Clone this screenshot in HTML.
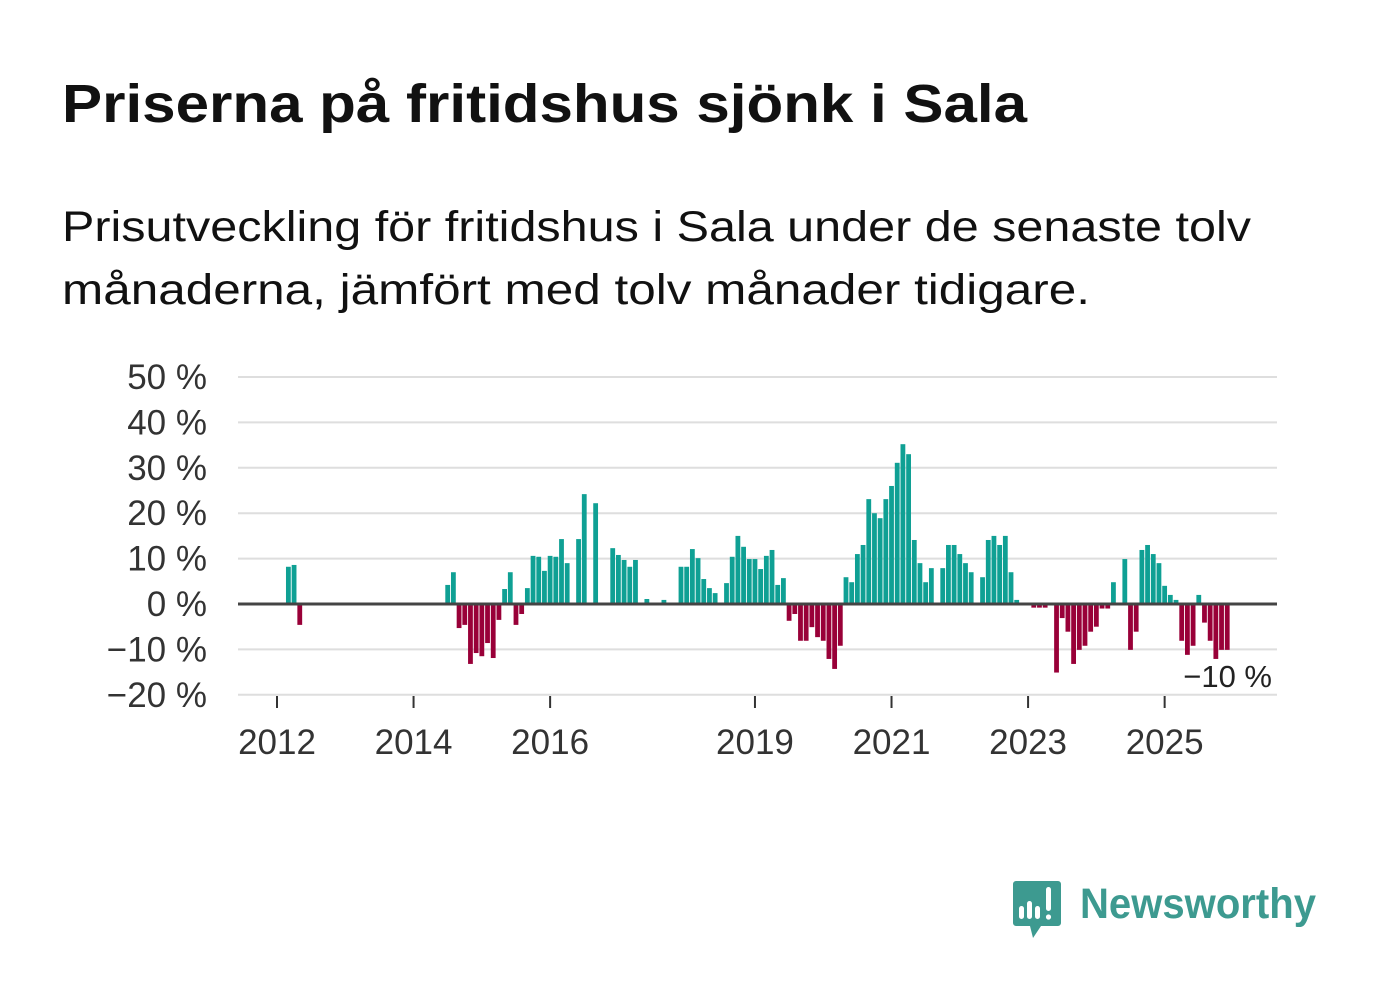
<!DOCTYPE html>
<html><head><meta charset="utf-8"><style>
body{margin:0;background:#fff;width:1382px;height:999px;overflow:hidden;font-family:"Liberation Sans",sans-serif;}
</style></head><body>
<svg width="1382" height="999" viewBox="0 0 1382 999">
<text x="62" y="122" font-size="54" font-weight="bold" fill="#111" textLength="965" lengthAdjust="spacingAndGlyphs">Priserna på fritidshus sjönk i Sala</text>
<text x="62" y="241" font-size="43" fill="#111" textLength="1189" lengthAdjust="spacingAndGlyphs">Prisutveckling för fritidshus i Sala under de senaste tolv</text>
<text x="62" y="304" font-size="43" fill="#111" textLength="1028" lengthAdjust="spacingAndGlyphs">månaderna, jämfört med tolv månader tidigare.</text>
<g id="grid"></g><g id="bars"></g><g id="axes"></g>
<text x="1272" y="687" font-size="31" fill="#222" text-anchor="end">−10 %</text>
<g>
<path d="M1016 881h42a3 3 0 0 1 3 3v39a3 3 0 0 1-3 3h-17l-8 12l-3-12h-14a3 3 0 0 1-3-3v-39a3 3 0 0 1 3-3z" fill="#3d9a90"/>
<rect x="1019" y="906" width="5" height="13" rx="2.5" fill="#fff"/><rect x="1027" y="901" width="5" height="18" rx="2.5" fill="#fff"/><rect x="1035" y="906" width="5" height="13" rx="2.5" fill="#fff"/><rect x="1046" y="887" width="5" height="24" rx="2.5" fill="#fff"/><circle cx="1048.5" cy="917" r="2.6" fill="#fff"/>
<text x="1080" y="918" font-size="43" font-weight="bold" fill="#3d9a90" textLength="236" lengthAdjust="spacingAndGlyphs">Newsworthy</text>
</g>
</svg>
<script>
const months=[2,3,4,30,31,32,33,34,35,36,37,38,39,40,41,42,43,44,45,46,47,48,49,50,51,53,54,56,59,60,61,62,63,65,68,71,72,73,74,75,76,77,79,80,81,82,83,84,85,86,87,88,89,90,91,92,93,94,95,96,97,98,99,100,101,102,103,104,105,106,107,108,109,110,111,112,113,114,115,117,118,119,120,121,122,124,125,126,127,128,129,130,133,134,135,137,138,139,140,141,142,143,144,145,146,147,149,150,151,152,153,154,155,156,157,158,159,160,161,162,163,164,165,166,167];
const values=[8.2,8.6,-4.6,4.2,7.0,-5.3,-4.6,-13.2,-10.8,-11.5,-8.6,-11.9,-3.5,3.3,7.0,-4.6,-2.2,3.5,10.6,10.4,7.3,10.6,10.4,14.3,9.0,14.3,24.2,22.2,12.3,10.8,9.7,8.2,9.7,1.1,0.9,8.2,8.2,12.1,10.1,5.5,3.5,2.4,4.6,10.4,15.0,12.6,9.9,9.9,7.7,10.6,11.9,4.2,5.7,-3.7,-2.2,-8.1,-8.1,-5.1,-7.3,-8.1,-12.1,-14.3,-9.2,5.9,4.8,11.0,13.0,23.1,20.0,18.9,23.1,26.0,31.1,35.2,33.0,14.1,9.0,4.8,7.9,7.9,13.0,13.0,11.0,9.0,7.0,5.9,14.1,15.0,13.0,15.0,7.0,0.9,-0.8,-0.8,-0.8,-15.1,-3.1,-6.1,-13.2,-10.1,-9.2,-6.1,-5.0,-1.0,-1.0,4.8,9.9,-10.1,-6.1,11.9,13.0,11.0,9.0,4.0,2.0,0.9,-8.1,-11.2,-9.2,2.0,-4.1,-8.1,-12.1,-10.1,-10.1];
const yTicks=[50,40,30,20,10,0,-10,-20];
const yTickLabels=["50 %","40 %","30 %","20 %","10 %","0 %","−10 %","−20 %"];
const xYears=[2012,2014,2016,2019,2021,2023,2025];
const NS="http://www.w3.org/2000/svg";
const y=v=>604-v*4.54;
const x=m=>277+m*5.69;
const xy=yr=>x((yr-2012)*12);
function mk(t,a,p){const e=document.createElementNS(NS,t);for(const k in a)e.setAttribute(k,a[k]);p.appendChild(e);return e;}
const grid=document.getElementById('grid'),bars=document.getElementById('bars'),axes=document.getElementById('axes');
yTicks.forEach((v,i)=>{
 if(v!==0){const l=mk('line',{x1:238,x2:1277,y1:y(v),y2:y(v),stroke:'#dedede','stroke-width':2},grid);
 
 }
 const t=mk('text',{x:207,y:y(v)+12,'font-size':35,fill:'#333','text-anchor':'end'},axes);
 t.textContent=yTickLabels[i];
 
 
});
months.forEach((m,i)=>{
 const v=values[i];
 const r=mk('rect',{x:x(m)-2.4,width:4.8,y:v>=0?y(v):y(0),height:Math.abs(y(v)-y(0)),fill:v>=0?'#0fa094':'#990038'},bars);
 
 
});
const z=mk('line',{x1:238,x2:1277,y1:y(0),y2:y(0),stroke:'#444','stroke-width':3},axes);


xYears.forEach(yr=>{
 const tk=mk('line',{x1:xy(yr),x2:xy(yr),y1:696,y2:708,stroke:'#333','stroke-width':2},axes);
 
 
 const t=mk('text',{x:xy(yr),y:754,'font-size':35,fill:'#333','text-anchor':'middle'},axes);
 t.textContent=yr;
 
 
});
</script>
</body></html>
